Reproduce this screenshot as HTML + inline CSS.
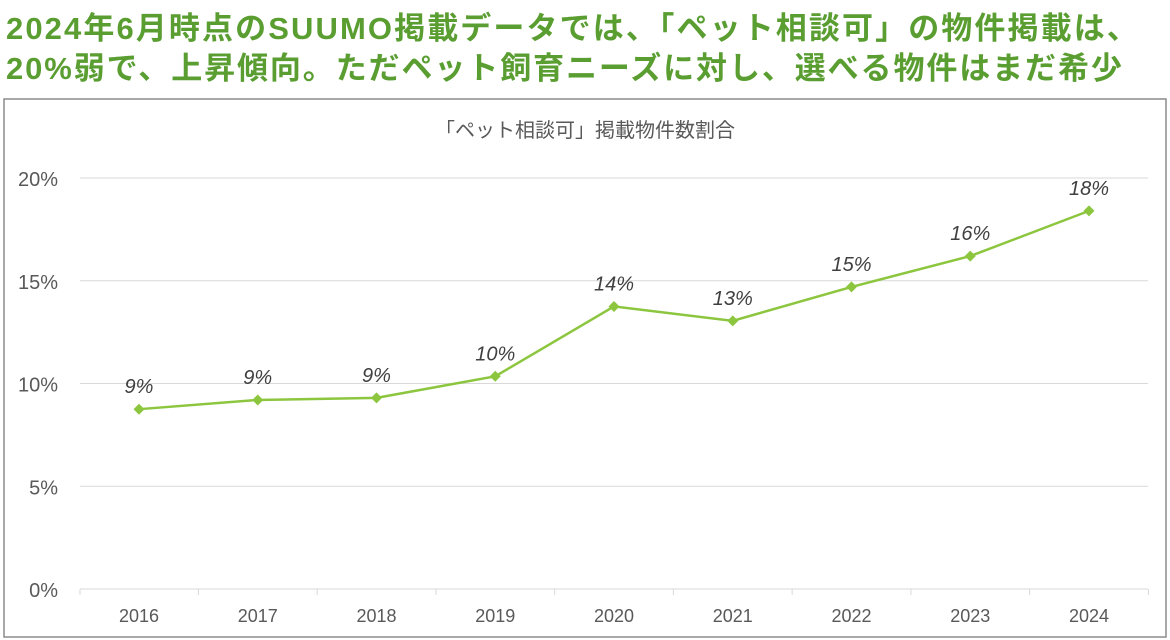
<!DOCTYPE html>
<html><head><meta charset="utf-8"><style>
body{margin:0;width:1170px;height:640px;background:#fff;overflow:hidden;font-family:"Liberation Sans","Noto Sans CJK JP",sans-serif}
.t{position:absolute;left:6px;color:#5a9e32;font-weight:bold;font-size:31px;white-space:nowrap;line-height:1}
</style></head><body>
<div class="t" style="top:13px;letter-spacing:2.1px">2024年6月時点のSUUMO掲載データでは、「ペット相談可」の物件掲載は、</div>
<div class="t" style="top:53px;letter-spacing:1.9px">20%弱で、上昇傾向。ただペット飼育ニーズに対し、選べる物件はまだ希少</div>
<svg id="c" width="1170" height="640" style="position:absolute;left:0;top:0">
<rect x="4" y="99" width="1162" height="538" fill="none" stroke="#8c8c8c" stroke-width="1.5"/>
<text x="585" y="137" text-anchor="middle" font-size="20" fill="#595959">「ペット相談可」掲載物件数割合</text>
</svg>
<script>
const categories=["2016","2017","2018","2019","2020","2021","2022","2023","2024"];
const values=[8.75,9.2,9.3,10.35,13.75,13.05,14.7,16.2,18.4];
const valueLabels=["9%","9%","9%","10%","14%","13%","15%","16%","18%"];
const yTicks=[0,5,10,15,20];
const svg=document.getElementById('c');const NS="http://www.w3.org/2000/svg";
const x=i=>139+i*118.75, y=v=>589-v*20.55;
function mk(t,a,p){const e=document.createElementNS(NS,t);for(const k in a)e.setAttribute(k,a[k]);(p||svg).appendChild(e);return e;}
yTicks.forEach(v=>{
 const g=mk('line',{x1:80,x2:1148,y1:y(v),y2:y(v),stroke:'#d9d9d9','stroke-width':1});
 
 
 const t=mk('text',{x:58,y:y(v)+8,'text-anchor':'end','font-size':20,fill:'#595959'});t.textContent=v+'%';
 
 
});
categories.forEach((c,i)=>{
 const tk=mk('line',{x1:x(i)+59.4,x2:x(i)+59.4,y1:589,y2:595,stroke:'#d9d9d9'});
 
 
 const t=mk('text',{x:x(i),y:622,'text-anchor':'middle','font-size':18,fill:'#595959'});t.textContent=c;
 
 
});
const l0=mk('line',{x1:80,x2:80,y1:589,y2:595,stroke:'#d9d9d9'});


const pl=mk('polyline',{points:values.map((v,i)=>x(i)+','+y(v)).join(' '),fill:'none',stroke:'#8cc63f','stroke-width':2.5});


values.forEach((v,i)=>{
 const px=x(i),py=y(v);
 const m=mk('polygon',{points:`${px},${py-5.5} ${px+5.5},${py} ${px},${py+5.5} ${px-5.5},${py}`,fill:'#8cc63f'});
 
 
 const t=mk('text',{x:px,y:py-16,'text-anchor':'middle','font-size':20,'font-style':'italic',fill:'#404040'});t.textContent=valueLabels[i];
 
 
});
</script>
</body></html>
